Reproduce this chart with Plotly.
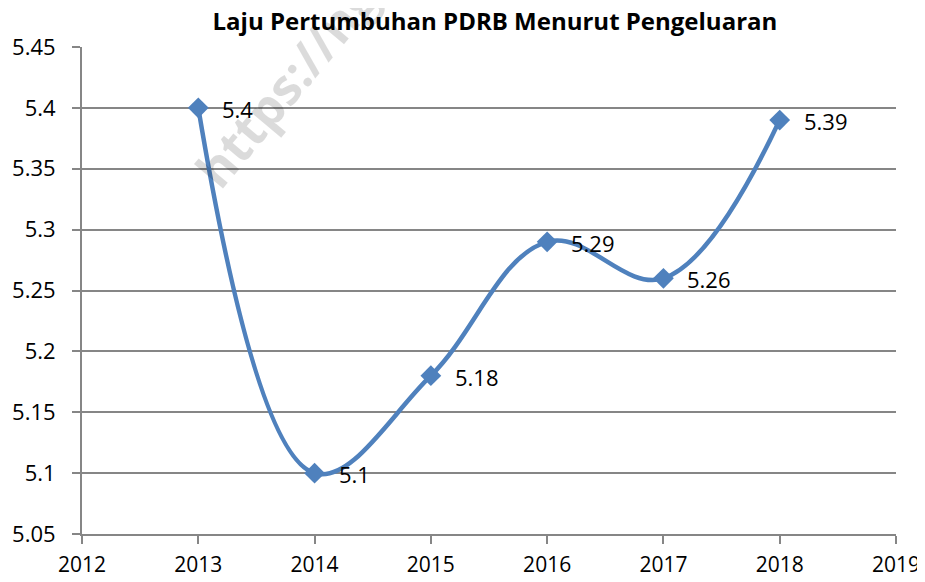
import plotly.graph_objects as go

years = [2013, 2014, 2015, 2016, 2017, 2018]
values = [5.4, 5.1, 5.18, 5.29, 5.26, 5.39]
labels = ["5.4", "5.1", "5.18", "5.29", "5.26", "5.39"]
y_ticks = [5.05, 5.1, 5.15, 5.2, 5.25, 5.3, 5.35, 5.4, 5.45]
y_tick_text = ["5.05", "5.1", "5.15", "5.2", "5.25", "5.3", "5.35", "5.4", "5.45"]
x_ticks = [2012, 2013, 2014, 2015, 2016, 2017, 2018, 2019]

FONT = "'Open Sans', sans-serif"
GRID = "#868686"

fig = go.Figure()
fig.add_trace(go.Scatter(
    x=years, y=values, mode="lines+markers",
    line=dict(color="#4F81BD", width=4.5, shape="spline", smoothing=1.1),
    marker=dict(symbol="diamond", size=16, color="#4F81BD"),
    cliponaxis=False,
))

for xv, yv, lab in zip(years, values, labels):
    fig.add_annotation(x=xv, y=yv, text=lab, showarrow=False,
                       xanchor="left", yanchor="middle", xshift=22, yshift=-1,
                       font=dict(size=22, color="black", family=FONT))

fig.add_annotation(
    text="<b>https://ng</b>", x=0.25, y=0.925, xref="paper", yref="paper",
    xanchor="center", yanchor="middle",
    showarrow=False, textangle=-50,
    font=dict(size=50, color="rgba(0,0,0,0.14)", family=FONT),
)

fig.update_layout(
    width=917, height=574,
    margin=dict(l=74, r=29, t=39, b=48, autoexpand=False),
    paper_bgcolor="white", plot_bgcolor="white",
    showlegend=False,
    title=dict(text="<b>Laju Pertumbuhan PDRB Menurut Pengeluaran</b>",
               x=0.531, xanchor="center", y=0.9756, yanchor="middle",
               font=dict(size=24, color="black", family=FONT)),
    font=dict(family=FONT, size=22, color="black"),
    xaxis=dict(range=[2012, 2019], tickmode="array", tickvals=x_ticks,
               showgrid=False, showline=True, linecolor=GRID, linewidth=2,
               ticks="outside", ticklen=8, tickcolor=GRID, tickwidth=2,
               ticklabelstandoff=3, automargin=False,
               zeroline=False, tickfont=dict(size=21, family=FONT)),
    yaxis=dict(range=[5.05, 5.45], tickmode="array", tickvals=y_ticks,
               ticktext=y_tick_text,
               showgrid=True, gridcolor=GRID, gridwidth=2,
               showline=True, linecolor=GRID, linewidth=2,
               ticks="outside", ticklen=8, tickcolor=GRID, tickwidth=2,
               ticklabelstandoff=12, automargin=False,
               zeroline=False, tickfont=dict(size=22, family=FONT)),
)

fig.write_html("out.html")
